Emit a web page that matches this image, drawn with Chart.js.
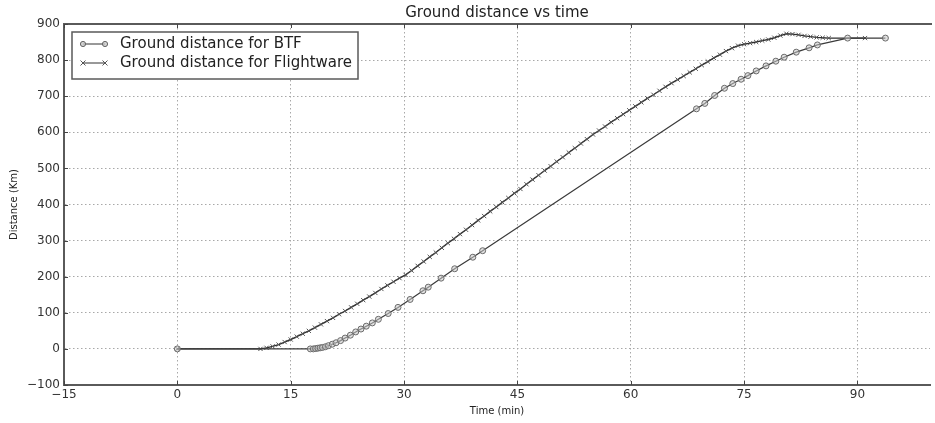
<!DOCTYPE html>
<html><head><meta charset="utf-8">
<script src="https://cdn.jsdelivr.net/npm/chart.js@4/dist/chart.umd.min.js"></script>
<style>html,body{margin:0;padding:0;background:#fff}canvas{display:block}</style>
</head><body>
<canvas id="c" width="935" height="423"></canvas>
<script>
// ---- data ----
const seriesNames = ['Ground distance for BTF', 'Ground distance for Flightware'];
const btfTime = [0, 17.6, 18.0, 18.3, 18.6, 18.9, 19.2, 19.6, 20.0, 20.5, 21.0, 21.6, 22.2, 22.9, 23.6, 24.3, 25.0, 25.8, 26.6, 27.9, 29.2, 30.8, 32.5, 33.2, 34.9, 36.7, 39.1, 40.4,
  68.7, 69.8, 71.1, 72.4, 73.5, 74.6, 75.5, 76.6, 77.9, 79.2, 80.3, 81.9, 83.6, 84.7, 88.7, 93.7];
const btfDist = [0, 0, 0, 1, 2, 3, 4, 6, 9, 13, 17, 23, 30, 38, 47, 55, 63, 72, 82, 98, 115, 137, 161, 171, 196, 222, 254, 272,
  665, 680, 702, 722, 735, 747, 757, 770, 784, 797, 808, 822, 834, 842, 861, 861];
const fwTime = [0, 11.0, 11.8, 12.6, 13.4, 14.2, 15.0, 15.8, 16.6, 17.4, 18.2, 19.0, 19.8, 20.6, 21.4, 22.2, 23.0, 23.8, 24.6, 25.4, 26.2, 27.0, 27.8, 28.6, 29.4,
  30.2, 31.0, 31.8, 32.6, 33.4, 34.2, 35.0, 35.8, 36.6, 37.4, 38.2, 39.0, 39.8, 40.6, 41.4, 42.2, 43.0, 43.8, 44.6, 45.4, 46.2, 47.0, 47.8, 48.6, 49.4,
  50.2, 51.0, 51.8, 52.6, 53.4, 54.2, 55.0, 55.8, 56.6, 57.4, 58.2, 59.0, 59.8, 60.6, 61.4, 62.2, 63.0, 63.8, 64.6, 65.4, 66.2, 67.0, 67.8, 68.6, 69.4,
  70.2, 71.0, 71.8, 72.6, 73.4, 74.2, 75.0, 75.8, 76.6, 77.4, 78.2, 79.0, 79.8, 80.6, 81.4, 82.2, 83.0, 83.8, 84.6, 85.4, 86.2, 91.0];
const fwDist = [0, 0, 3, 7, 12, 19, 26, 34, 42, 50, 59, 68, 77, 86, 96, 105, 115, 125, 135, 145, 155, 166, 176, 186, 196,
  205, 217, 230, 242, 255, 267, 280, 293, 305, 318, 330, 343, 356, 368, 381, 393, 406, 418, 431, 443, 456, 469, 481, 494, 506,
  519, 531, 544, 556, 569, 581, 594, 605, 616, 628, 639, 650, 661, 672, 683, 694, 704, 715, 726, 736, 746, 756, 766, 776, 786,
  796, 806, 815, 825, 833, 840, 844, 847, 850, 854, 857, 862, 868, 873, 872, 870, 867, 865, 863, 862, 861, 861];
const xTickValues = [-15, 0, 15, 30, 45, 60, 75, 90];
const yTickValues = [-100, 0, 100, 200, 300, 400, 500, 600, 700, 800, 900];

const toPts = (xs, ys) => xs.map((x, i) => ({x: x, y: ys[i]}));
const fmt = v => String(v).replace('-', '\u2212');
const FONT = 'DejaVu Sans';
const FRAME = '#5a5a5a';

const framePlugin = {
  id: 'frame',
  afterDraw(chart) {
    const ctx = chart.ctx, a = chart.chartArea;
    const xs = chart.scales.x, ys = chart.scales.y;
    ctx.save();
    ctx.strokeStyle = FRAME;
    ctx.lineWidth = 2;
    ctx.beginPath();
    ctx.moveTo(a.left, a.top); ctx.lineTo(a.right + 2, a.top);
    ctx.stroke();
    ctx.lineWidth = 1;
    ctx.strokeStyle = '#444';
    ctx.beginPath();
    xTickValues.forEach(v => {
      const px = Math.round(xs.getPixelForValue(v)) + 0.5;
      ctx.moveTo(px, a.bottom); ctx.lineTo(px, a.bottom - 4);
      ctx.moveTo(px, a.top); ctx.lineTo(px, a.top + 4);
    });
    yTickValues.forEach(v => {
      const py = Math.round(ys.getPixelForValue(v)) + 0.5;
      ctx.moveTo(a.left, py); ctx.lineTo(a.left + 4, py);
    });
    ctx.stroke();

    // legend
    const bx = 72, by = 32, bw = 286, bh = 47;
    ctx.fillStyle = '#fff';
    ctx.fillRect(bx, by, bw, bh);
    ctx.strokeStyle = FRAME;
    ctx.lineWidth = 1.5;
    ctx.strokeRect(bx, by, bw, bh);
    const rows = [44, 63];
    chart.data.datasets.forEach((ds, i) => {
      const y = rows[i];
      ctx.strokeStyle = '#333';
      ctx.lineWidth = 1;
      ctx.beginPath(); ctx.moveTo(83, y); ctx.lineTo(105, y); ctx.stroke();
      [83, 105].forEach(px => {
        if (i === 0) {
          ctx.beginPath(); ctx.arc(px, y, 2.6, 0, Math.PI * 2);
          ctx.fillStyle = 'rgba(200,200,200,0.8)'; ctx.fill();
          ctx.strokeStyle = '#666'; ctx.stroke();
        } else {
          ctx.beginPath();
          ctx.moveTo(px - 2.5, y - 2.5); ctx.lineTo(px + 2.5, y + 2.5);
          ctx.moveTo(px - 2.5, y + 2.5); ctx.lineTo(px + 2.5, y - 2.5);
          ctx.strokeStyle = '#555'; ctx.stroke();
        }
      });
      ctx.fillStyle = '#222';
      ctx.font = '15px "' + FONT + '"';
      ctx.textBaseline = 'middle';
      ctx.textAlign = 'left';
      ctx.fillText(ds.label, 120, y);
    });
    ctx.restore();
  }
};

new Chart(document.getElementById('c'), {
  type: 'line',
  data: {
    datasets: [
      {
        label: seriesNames[0],
        data: toPts(btfTime, btfDist),
        borderColor: '#3a3a3a', borderWidth: 1.2,
        pointStyle: 'circle', pointRadius: 3,
        pointBackgroundColor: 'rgba(200,200,200,0.55)', pointBorderColor: '#6a6a6a', pointBorderWidth: 1,
        tension: 0, fill: false
      },
      {
        label: seriesNames[1],
        data: toPts(fwTime, fwDist),
        borderColor: '#2e2e2e', borderWidth: 1.4,
        pointStyle: 'crossRot', pointRadius: 3,
        pointBorderColor: '#555', pointBorderWidth: 1,
        tension: 0, fill: false
      }
    ]
  },
  options: {
    responsive: false,
    animation: false,
    devicePixelRatio: 1,
    layout: {padding: {left: 0, right: 0, top: 0, bottom: 0}},
    plugins: {
      legend: {display: false},
      tooltip: {enabled: false},
      title: {
        display: true, text: 'Ground distance vs time', fullSize: false,
        font: {family: FONT, size: 15, weight: 'normal'}, color: '#222',
        padding: {top: 4, bottom: 2}
      }
    },
    scales: {
      x: {
        type: 'linear', min: -15, max: 99.6,
        afterBuildTicks: s => { s.ticks = xTickValues.map(v => ({value: v})); },
        afterFit: s => { s.height = 38; },
        ticks: {callback: v => fmt(v), font: {family: FONT, size: 12}, color: '#333', padding: 3, maxRotation: 0, autoSkip: false},
        grid: {color: '#a8a8a8', lineWidth: 1, drawTicks: false},
        border: {display: true, color: FRAME, width: 2, dash: [1.5, 2.5]},
        title: {display: true, text: 'Time (min)', font: {family: FONT, size: 10}, color: '#222', padding: {top: 0, bottom: 6}}
      },
      y: {
        type: 'linear', min: -100, max: 900,
        afterBuildTicks: s => { s.ticks = yTickValues.map(v => ({value: v})); },
        afterFit: s => { s.width = 64; },
        ticks: {callback: v => fmt(v), font: {family: FONT, size: 12}, color: '#333', padding: 4, autoSkip: false},
        grid: {color: '#a8a8a8', lineWidth: 1, drawTicks: false},
        border: {display: true, color: FRAME, width: 2, dash: [1.5, 2.5]},
        title: {display: true, text: 'Distance (Km)', font: {family: FONT, size: 10}, color: '#222', padding: {top: 8, bottom: 0}}
      }
    }
  },
  plugins: [framePlugin]
});
</script>
</body></html>
